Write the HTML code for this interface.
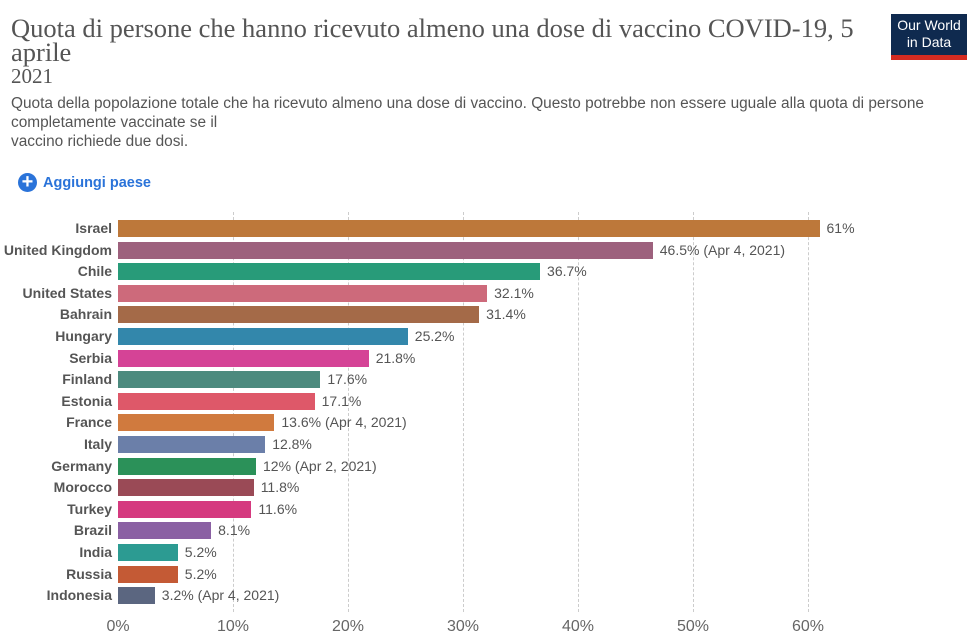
<!DOCTYPE html><html><head><style>
body{margin:0;width:978px;height:639px;background:#fff;font-family:"Liberation Sans",sans-serif;position:relative;overflow:hidden}
.a{position:absolute;white-space:nowrap}
.t{font-family:"Liberation Serif",serif;color:#555;font-size:26.5px;left:11px}
.lab{right:866px;font-size:14px;font-weight:bold;color:#555;text-align:right}
.bar{position:absolute;left:118px;height:17px}
.v{font-size:14px;color:#555}
.g{position:absolute;top:212px;height:400px;border-left:1px dashed #ccc}
.x{font-size:16px;color:#666;top:618px;transform:translateX(-50%)}
</style></head><body>
<div class="a t" style="top:13px">Quota di persone che hanno ricevuto almeno una dose di vaccino COVID-19, 5</div>
<div class="a t" style="top:37px">aprile</div>
<div class="a t" style="top:64px;font-size:21px">2021</div>
<div class="a" style="left:11px;top:94px;font-size:15.4px;color:#555;line-height:19px">Quota della popolazione totale che ha ricevuto almeno una dose di vaccino. Questo potrebbe non essere uguale alla quota di persone<br>completamente vaccinate se il<br>vaccino richiede due dosi.</div>
<div class="a" style="left:891px;top:14px;width:76px;height:40px;background:#0f2a4f;color:#fff;font-size:14px;line-height:17px;text-align:center;padding-top:3px">Our World<br>in Data</div>
<div class="a" style="left:891px;top:55px;width:76px;height:5px;background:#d42b21"></div>
<div class="a" style="left:18px;top:173px;width:19px;height:19px;border-radius:50%;background:#2a73d9;color:#fff;font-size:20px;line-height:18px;text-align:center;font-weight:bold">+</div>
<div class="a" style="left:43px;top:175px;font-size:14.5px;color:#2a73d9;font-weight:bold">Aggiungi paese</div>
<div class="g" style="left:233px"></div><div class="g" style="left:348px"></div><div class="g" style="left:463px"></div><div class="g" style="left:578px"></div><div class="g" style="left:693px"></div><div class="g" style="left:808px"></div>
<div class="a x" style="left:118px">0%</div><div class="a x" style="left:233px">10%</div><div class="a x" style="left:348px">20%</div><div class="a x" style="left:463px">30%</div><div class="a x" style="left:578px">40%</div><div class="a x" style="left:693px">50%</div><div class="a x" style="left:808px">60%</div>
<div id="c"></div>
<script>
var d=[["Israel",61,"61%","#bd783a"],["United Kingdom",46.5,"46.5% (Apr 4, 2021)","#9d617d"],["Chile",36.7,"36.7%","#289b79"],["United States",32.1,"32.1%","#cd6a7b"],["Bahrain",31.4,"31.4%","#a46a48"],["Hungary",25.2,"25.2%","#3387ab"],["Serbia",21.8,"21.8%","#d54396"],["Finland",17.6,"17.6%","#4c8a7e"],["Estonia",17.1,"17.1%","#de5869"],["France",13.6,"13.6% (Apr 4, 2021)","#d07a3e"],["Italy",12.8,"12.8%","#6b7fa9"],["Germany",12,"12% (Apr 2, 2021)","#2b9159"],["Morocco",11.8,"11.8%","#9a4a56"],["Turkey",11.6,"11.6%","#d53a7f"],["Brazil",8.1,"8.1%","#8a60a3"],["India",5.2,"5.2%","#2c9b92"],["Russia",5.2,"5.2%","#c45a35"],["Indonesia",3.2,"3.2% (Apr 4, 2021)","#5b6680"]];
var h="";d.forEach(function(r,i){var y=220+i*21.6,w=r[1]*11.5;
h+='<div class="a lab" style="top:'+(y)+'px">'+r[0]+'</div><div class="bar" style="top:'+y+'px;width:'+w+'px;background:'+r[3]+'"></div><div class="a v" style="top:'+(y)+'px;left:'+(118+w+7)+'px">'+r[2]+'</div>';});
document.getElementById("c").innerHTML=h;
</script>
</body></html>
